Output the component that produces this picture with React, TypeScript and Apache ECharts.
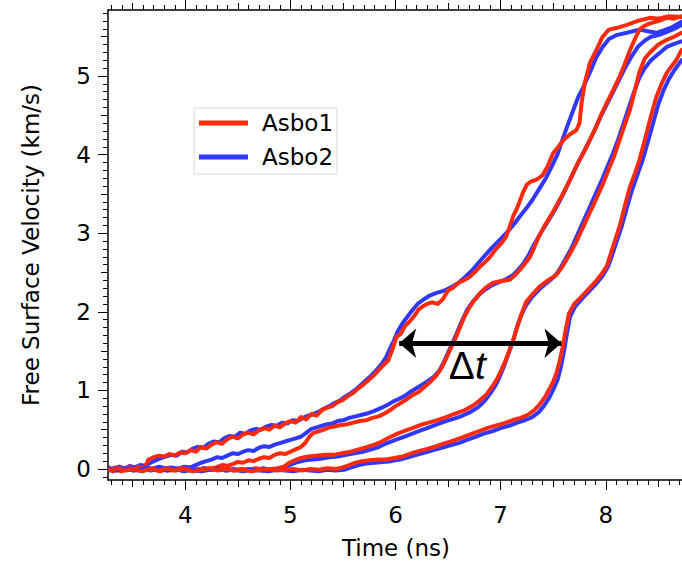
import React, { useEffect, useRef } from "react";
import * as echarts from "echarts";

// ---- Data (time in ns, free surface velocity in km/s) ----
const asbo1TraceA: number[][] = [[3.27,0.00],[3.31,-0.03],[3.36,0.02],[3.41,-0.02],[3.46,0.03],[3.51,-0.01],[3.56,0.03],[3.61,0.01],[3.65,0.12],[3.7,0.15],[3.75,0.17],[3.8,0.16],[3.85,0.19],[3.9,0.17],[3.95,0.21],[4.0,0.20],[4.05,0.24],[4.1,0.22],[4.15,0.28],[4.2,0.26],[4.25,0.31],[4.3,0.34],[4.35,0.32],[4.4,0.38],[4.45,0.41],[4.5,0.39],[4.55,0.44],[4.6,0.46],[4.65,0.44],[4.7,0.49],[4.75,0.52],[4.8,0.50],[4.85,0.55],[4.9,0.53],[4.95,0.58],[5.0,0.61],[5.05,0.59],[5.1,0.66],[5.15,0.63],[5.2,0.70],[5.25,0.68],[5.3,0.75],[5.35,0.78],[5.4,0.80],[5.45,0.85],[5.5,0.88],[5.55,0.93],[5.6,0.97],[5.65,1.03],[5.7,1.08],[5.75,1.14],[5.8,1.20],[5.85,1.27],[5.89,1.33],[5.93,1.38],[5.97,1.52],[6.01,1.68],[6.05,1.72],[6.09,1.82],[6.13,1.87],[6.18,1.95],[6.22,2.03],[6.26,2.07],[6.3,2.10],[6.35,2.12],[6.4,2.10],[6.45,2.16],[6.5,2.27],[6.55,2.31],[6.6,2.37],[6.65,2.40],[6.7,2.44],[6.75,2.50],[6.8,2.57],[6.85,2.63],[6.9,2.70],[6.95,2.79],[7.0,2.86],[7.05,2.95],[7.09,3.10],[7.12,3.22],[7.15,3.30],[7.18,3.40],[7.21,3.51],[7.25,3.62],[7.29,3.66],[7.34,3.68],[7.4,3.74],[7.45,3.86],[7.5,4.02],[7.55,4.10],[7.6,4.19],[7.66,4.26],[7.72,4.31],[7.75,4.40],[7.77,4.66],[7.8,4.91],[7.85,5.17],[7.91,5.33],[7.97,5.50],[8.03,5.59],[8.1,5.61],[8.2,5.65],[8.3,5.70],[8.42,5.74],[8.5,5.73],[8.6,5.76],[8.72,5.75],[8.8,5.76]];
const asbo2TraceA: number[][] = [[3.27,0.02],[3.32,-0.01],[3.37,0.03],[3.42,0.00],[3.47,0.04],[3.52,0.02],[3.57,0.05],[3.62,0.04],[3.67,0.08],[3.72,0.11],[3.77,0.14],[3.82,0.16],[3.87,0.18],[3.92,0.17],[3.97,0.22],[4.02,0.21],[4.07,0.26],[4.12,0.28],[4.17,0.27],[4.22,0.32],[4.27,0.35],[4.32,0.34],[4.37,0.39],[4.42,0.42],[4.47,0.41],[4.52,0.46],[4.57,0.45],[4.62,0.49],[4.67,0.51],[4.72,0.50],[4.77,0.54],[4.82,0.56],[4.87,0.55],[4.92,0.59],[4.97,0.58],[5.02,0.62],[5.07,0.61],[5.12,0.65],[5.17,0.68],[5.22,0.70],[5.27,0.73],[5.32,0.77],[5.37,0.80],[5.42,0.84],[5.47,0.87],[5.52,0.92],[5.57,0.96],[5.62,1.01],[5.67,1.07],[5.72,1.13],[5.77,1.19],[5.82,1.26],[5.87,1.34],[5.91,1.42],[5.95,1.54],[5.98,1.62],[6.02,1.75],[6.07,1.86],[6.11,1.93],[6.16,2.02],[6.21,2.10],[6.27,2.16],[6.33,2.21],[6.39,2.24],[6.44,2.26],[6.48,2.28],[6.54,2.32],[6.6,2.37],[6.66,2.44],[6.73,2.53],[6.8,2.64],[6.86,2.73],[6.92,2.82],[6.98,2.90],[7.03,2.97],[7.08,3.04],[7.13,3.12],[7.18,3.21],[7.24,3.31],[7.3,3.42],[7.37,3.57],[7.43,3.70],[7.49,3.86],[7.54,4.00],[7.59,4.20],[7.65,4.42],[7.7,4.60],[7.74,4.74],[7.78,4.84],[7.82,4.96],[7.86,5.08],[7.91,5.24],[7.97,5.37],[8.03,5.47],[8.1,5.52],[8.2,5.55],[8.32,5.59],[8.4,5.57],[8.48,5.55],[8.55,5.58],[8.63,5.62],[8.72,5.69],[8.8,5.71]];
const asbo1TraceB: number[][] = [[3.27,-0.02],[3.33,0.01],[3.39,-0.03],[3.45,0.00],[3.51,-0.02],[3.57,0.02],[3.63,-0.01],[3.69,0.01],[3.75,-0.02],[3.81,0.00],[3.87,-0.02],[3.93,0.01],[3.99,-0.01],[4.05,0.00],[4.11,-0.02],[4.17,0.01],[4.23,0.00],[4.29,0.02],[4.35,0.05],[4.4,0.04],[4.45,0.06],[4.5,0.09],[4.55,0.08],[4.6,0.11],[4.65,0.10],[4.7,0.13],[4.75,0.15],[4.8,0.14],[4.85,0.18],[4.9,0.20],[4.95,0.19],[5.0,0.22],[5.05,0.25],[5.1,0.28],[5.14,0.33],[5.18,0.41],[5.22,0.46],[5.27,0.48],[5.32,0.50],[5.37,0.53],[5.42,0.54],[5.48,0.56],[5.54,0.57],[5.6,0.59],[5.66,0.61],[5.72,0.62],[5.78,0.65],[5.84,0.67],[5.9,0.71],[5.95,0.75],[6.0,0.80],[6.05,0.84],[6.1,0.88],[6.16,0.94],[6.22,0.98],[6.28,1.05],[6.34,1.12],[6.39,1.19],[6.44,1.29],[6.48,1.40],[6.52,1.52],[6.56,1.63],[6.6,1.76],[6.65,1.92],[6.7,2.05],[6.75,2.15],[6.8,2.23],[6.86,2.31],[6.93,2.37],[7.0,2.39],[7.09,2.41],[7.14,2.47],[7.18,2.53],[7.23,2.61],[7.28,2.70],[7.32,2.82],[7.36,2.95],[7.42,3.10],[7.48,3.23],[7.53,3.35],[7.58,3.47],[7.63,3.60],[7.68,3.74],[7.74,3.91],[7.8,4.05],[7.85,4.19],[7.9,4.33],[7.96,4.52],[8.01,4.66],[8.07,4.82],[8.13,4.99],[8.18,5.15],[8.23,5.33],[8.28,5.48],[8.32,5.59],[8.37,5.64],[8.42,5.67],[8.5,5.70],[8.58,5.74],[8.65,5.73],[8.72,5.76],[8.8,5.77]];
const asbo2TraceB: number[][] = [[3.27,0.01],[3.33,-0.02],[3.39,0.02],[3.45,-0.01],[3.51,0.01],[3.57,-0.02],[3.63,0.02],[3.69,0.00],[3.75,0.03],[3.81,0.01],[3.87,0.02],[3.93,0.00],[3.99,0.03],[4.05,0.02],[4.1,0.05],[4.15,0.08],[4.2,0.10],[4.25,0.12],[4.3,0.15],[4.35,0.14],[4.4,0.17],[4.45,0.20],[4.5,0.19],[4.55,0.22],[4.6,0.24],[4.65,0.23],[4.7,0.27],[4.75,0.29],[4.8,0.28],[4.85,0.31],[4.9,0.33],[4.95,0.35],[5.0,0.37],[5.05,0.39],[5.1,0.41],[5.15,0.46],[5.2,0.51],[5.25,0.53],[5.3,0.55],[5.35,0.57],[5.4,0.58],[5.45,0.61],[5.5,0.62],[5.56,0.65],[5.62,0.67],[5.68,0.69],[5.74,0.71],[5.8,0.74],[5.87,0.78],[5.93,0.82],[5.98,0.86],[6.03,0.89],[6.09,0.93],[6.14,0.98],[6.19,1.02],[6.25,1.07],[6.31,1.12],[6.37,1.18],[6.42,1.26],[6.46,1.36],[6.5,1.48],[6.54,1.60],[6.58,1.72],[6.63,1.88],[6.68,2.02],[6.73,2.12],[6.79,2.21],[6.85,2.28],[6.92,2.34],[6.99,2.38],[7.06,2.42],[7.12,2.47],[7.17,2.54],[7.22,2.62],[7.27,2.73],[7.32,2.86],[7.38,3.00],[7.44,3.13],[7.5,3.26],[7.55,3.38],[7.6,3.51],[7.65,3.65],[7.71,3.82],[7.77,3.98],[7.83,4.14],[7.89,4.30],[7.95,4.48],[8.01,4.64],[8.07,4.80],[8.13,4.96],[8.19,5.12],[8.25,5.26],[8.31,5.38],[8.37,5.45],[8.43,5.50],[8.5,5.52],[8.58,5.56],[8.65,5.60],[8.72,5.65],[8.8,5.67]];
const asbo1TraceC: number[][] = [[3.27,0.01],[3.34,-0.02],[3.41,0.01],[3.48,-0.01],[3.55,0.02],[3.62,-0.01],[3.69,0.00],[3.76,-0.03],[3.83,0.00],[3.9,-0.02],[3.97,0.01],[4.04,-0.01],[4.11,0.00],[4.18,-0.02],[4.25,0.00],[4.32,-0.01],[4.39,0.01],[4.46,-0.02],[4.53,0.00],[4.6,-0.01],[4.67,0.01],[4.74,-0.01],[4.81,0.00],[4.88,0.01],[4.94,0.03],[4.99,0.08],[5.04,0.11],[5.1,0.14],[5.17,0.16],[5.25,0.17],[5.33,0.18],[5.41,0.18],[5.49,0.20],[5.57,0.22],[5.65,0.25],[5.73,0.28],[5.8,0.31],[5.87,0.35],[5.94,0.40],[6.02,0.45],[6.1,0.49],[6.18,0.53],[6.26,0.57],[6.34,0.60],[6.42,0.63],[6.5,0.67],[6.58,0.71],[6.66,0.75],[6.73,0.80],[6.8,0.87],[6.86,0.94],[6.91,1.03],[6.96,1.13],[7.0,1.24],[7.04,1.36],[7.08,1.50],[7.12,1.64],[7.16,1.82],[7.2,1.98],[7.24,2.12],[7.3,2.22],[7.37,2.32],[7.45,2.40],[7.53,2.47],[7.58,2.56],[7.63,2.67],[7.68,2.79],[7.72,2.89],[7.76,3.01],[7.8,3.12],[7.84,3.24],[7.88,3.35],[7.93,3.50],[7.98,3.65],[8.03,3.82],[8.08,3.98],[8.13,4.18],[8.18,4.38],[8.23,4.57],[8.27,4.78],[8.32,5.05],[8.37,5.22],[8.42,5.30],[8.5,5.40],[8.58,5.46],[8.65,5.50],[8.72,5.55],[8.8,5.57]];
const asbo2TraceC: number[][] = [[3.27,-0.01],[3.34,0.02],[3.41,-0.01],[3.48,0.01],[3.55,-0.02],[3.62,0.01],[3.69,-0.01],[3.76,0.01],[3.83,-0.02],[3.9,0.00],[3.97,-0.02],[4.04,0.00],[4.11,-0.02],[4.18,0.01],[4.25,-0.01],[4.32,0.00],[4.39,-0.02],[4.46,0.00],[4.53,-0.02],[4.6,0.00],[4.67,-0.01],[4.74,0.01],[4.81,-0.01],[4.88,0.00],[4.95,0.02],[5.01,0.06],[5.07,0.09],[5.14,0.11],[5.21,0.12],[5.29,0.13],[5.37,0.15],[5.45,0.16],[5.53,0.18],[5.61,0.20],[5.69,0.22],[5.77,0.25],[5.84,0.28],[5.92,0.33],[6.0,0.37],[6.08,0.41],[6.16,0.45],[6.24,0.49],[6.32,0.53],[6.4,0.57],[6.48,0.61],[6.56,0.64],[6.64,0.68],[6.72,0.73],[6.79,0.79],[6.85,0.87],[6.9,0.96],[6.95,1.06],[6.99,1.17],[7.03,1.30],[7.07,1.45],[7.11,1.60],[7.15,1.78],[7.19,1.94],[7.24,2.08],[7.3,2.19],[7.37,2.29],[7.45,2.38],[7.52,2.46],[7.57,2.56],[7.62,2.68],[7.67,2.80],[7.71,2.92],[7.75,3.04],[7.79,3.16],[7.83,3.28],[7.87,3.40],[7.92,3.55],[7.97,3.70],[8.02,3.86],[8.07,4.02],[8.12,4.20],[8.17,4.40],[8.22,4.60],[8.27,4.80],[8.32,4.98],[8.37,5.10],[8.43,5.20],[8.5,5.28],[8.58,5.37],[8.65,5.41],[8.72,5.44],[8.8,5.47]];
const asbo1TraceD: number[][] = [[3.27,-0.02],[3.35,0.01],[3.43,-0.02],[3.51,0.00],[3.59,-0.03],[3.67,0.00],[3.75,-0.02],[3.83,0.01],[3.91,-0.02],[3.99,0.00],[4.07,-0.03],[4.15,-0.01],[4.23,0.01],[4.31,-0.02],[4.39,0.00],[4.47,-0.02],[4.55,-0.01],[4.63,-0.03],[4.71,-0.01],[4.79,0.00],[4.87,-0.02],[4.95,-0.01],[5.03,0.00],[5.11,-0.02],[5.19,0.00],[5.27,-0.01],[5.35,0.01],[5.43,0.00],[5.5,0.02],[5.56,0.05],[5.62,0.08],[5.68,0.10],[5.75,0.11],[5.83,0.12],[5.91,0.12],[5.99,0.14],[6.07,0.16],[6.15,0.20],[6.23,0.23],[6.31,0.26],[6.39,0.29],[6.47,0.33],[6.55,0.36],[6.63,0.40],[6.71,0.44],[6.79,0.48],[6.87,0.52],[6.95,0.55],[7.03,0.58],[7.11,0.62],[7.19,0.65],[7.26,0.69],[7.32,0.75],[7.37,0.82],[7.42,0.91],[7.46,1.01],[7.5,1.11],[7.53,1.22],[7.56,1.36],[7.59,1.55],[7.62,1.78],[7.65,1.98],[7.7,2.10],[7.76,2.18],[7.83,2.28],[7.9,2.38],[7.96,2.48],[8.01,2.58],[8.05,2.75],[8.09,2.92],[8.13,3.08],[8.18,3.34],[8.23,3.59],[8.28,3.77],[8.32,3.93],[8.37,4.18],[8.42,4.44],[8.48,4.73],[8.53,4.90],[8.58,5.04],[8.63,5.13],[8.67,5.20],[8.72,5.33],[8.8,5.38]];
const asbo2TraceD: number[][] = [[3.27,0.00],[3.35,-0.02],[3.43,0.01],[3.51,-0.02],[3.59,0.00],[3.67,-0.02],[3.75,0.00],[3.83,-0.02],[3.91,0.00],[3.99,-0.03],[4.07,-0.01],[4.15,-0.03],[4.23,-0.01],[4.31,0.00],[4.39,-0.02],[4.47,-0.01],[4.55,-0.03],[4.63,-0.01],[4.71,-0.02],[4.79,-0.03],[4.87,-0.01],[4.95,-0.02],[5.03,-0.03],[5.11,-0.01],[5.19,-0.02],[5.27,-0.03],[5.35,-0.01],[5.43,-0.02],[5.51,-0.01],[5.58,0.02],[5.65,0.05],[5.72,0.07],[5.8,0.08],[5.88,0.09],[5.96,0.10],[6.04,0.12],[6.12,0.15],[6.2,0.18],[6.28,0.21],[6.36,0.24],[6.44,0.27],[6.52,0.30],[6.6,0.33],[6.68,0.37],[6.76,0.41],[6.84,0.45],[6.92,0.48],[7.0,0.52],[7.08,0.55],[7.16,0.59],[7.23,0.62],[7.3,0.66],[7.36,0.72],[7.41,0.80],[7.46,0.90],[7.5,1.01],[7.54,1.13],[7.57,1.28],[7.6,1.48],[7.63,1.72],[7.66,1.94],[7.71,2.07],[7.77,2.16],[7.84,2.26],[7.91,2.36],[7.97,2.46],[8.02,2.57],[8.06,2.72],[8.1,2.88],[8.15,3.08],[8.2,3.32],[8.25,3.55],[8.3,3.74],[8.35,3.93],[8.4,4.16],[8.45,4.40],[8.5,4.64],[8.55,4.82],[8.6,4.96],[8.65,5.07],[8.72,5.20],[8.8,5.26]];

// Δt annotation: arrow endpoints (ns) and level (km/s)
const deltaTStart = 6.035;
const deltaTEnd = 7.578;
const deltaTLevel = 1.6;

// Axes
const X_MIN = 3.265;
const X_MAX = 8.725;
const Y_MIN = -0.14;
const Y_MAX = 5.84;
const xMajorTicks = [4, 5, 6, 7, 8];
const xMidTicks = [3.5, 4.5, 5.5, 6.5, 7.5, 8.5];
const yMajorTicks = [0, 1, 2, 3, 4, 5];
const yMidTicks = [0.5, 1.5, 2.5, 3.5, 4.5, 5.5];
const xMinorTicks: number[] = [];
for (let i = 33; i <= 87; i++) xMinorTicks.push(i / 10);
const yMinorTicks: number[] = [];
for (let i = -1; i <= 58; i++) yMinorTicks.push(i / 10);

const RED = "#ff2a0a";
const BLUE = "#3038ff";
const FONT = "DejaVu Sans";

function xAxisDef(position: "top" | "bottom", ticks: number[], len: number, line: boolean, labels: number[] | null) {
  return {
    type: "value",
    position,
    min: X_MIN,
    max: X_MAX,
    axisLine: { show: line, onZero: false, lineStyle: { color: "#000", width: 1.5 } },
    axisTick: { show: true, inside: false, length: len, customValues: ticks, lineStyle: { color: "#000", width: 1 } },
    axisLabel: labels
      ? { show: true, customValues: labels, margin: 23, color: "#000", fontSize: 23, fontFamily: FONT }
      : { show: false },
    splitLine: { show: false },
  };
}

function yAxisDef(ticks: number[], len: number, line: boolean, labels: number[] | null) {
  return {
    type: "value",
    position: "left",
    min: Y_MIN,
    max: Y_MAX,
    axisLine: { show: line, onZero: false, lineStyle: { color: "#000", width: 1.5 } },
    axisTick: { show: true, inside: false, length: len, customValues: ticks, lineStyle: { color: "#000", width: 1 } },
    axisLabel: labels
      ? { show: true, customValues: labels, margin: 17, color: "#000", fontSize: 23, fontFamily: FONT }
      : { show: false },
    splitLine: { show: false },
  };
}

function trace(name: string, color: string, data: number[][]) {
  return {
    type: "line",
    name,
    data,
    xAxisIndex: 0,
    yAxisIndex: 0,
    showSymbol: false,
    symbol: "none",
    clip: true,
    silent: true,
    lineStyle: { color, width: 4, join: "round" },
    itemStyle: { color },
  };
}

export default function App() {
  const ref = useRef<HTMLDivElement>(null);
  useEffect(() => {
    if (!ref.current) return;
    const chart = echarts.init(ref.current, null, { renderer: "svg" });
    chart.setOption({
      animation: false,
      backgroundColor: "#fff",
      grid: { left: 108, top: 10, width: 576, height: 470, containLabel: false },
      xAxis: [
        xAxisDef("bottom", xMinorTicks, 5, true, null),
        xAxisDef("bottom", xMidTicks, 7, false, null),
        xAxisDef("bottom", xMajorTicks, 10, false, xMajorTicks),
        xAxisDef("top", xMinorTicks, 5, true, null),
        xAxisDef("top", xMidTicks, 7, false, null),
        xAxisDef("top", xMajorTicks, 10, false, null),
      ],
      yAxis: [
        yAxisDef(yMinorTicks, 5, true, null),
        yAxisDef(yMidTicks, 7, false, null),
        yAxisDef(yMajorTicks, 10, false, yMajorTicks),
      ],
      legend: {
        data: ["Asbo1", "Asbo2"],
        orient: "vertical",
        left: 194,
        top: 108,
        padding: [2, 4, 4, 5],
        itemGap: 8,
        itemWidth: 49,
        itemHeight: 5,
        icon: "rect",
        selectedMode: false,
        borderColor: "#d9d9d9",
        borderWidth: 1,
        backgroundColor: "#fff",
        textStyle: { color: "#000", fontSize: 23, fontFamily: FONT, lineHeight: 26, padding: [0, 0, 0, 9] },
      },
      graphic: [
        {
          type: "text",
          x: 31,
          y: 245,
          rotation: Math.PI / 2,
          style: {
            text: "Free Surface Velocity (km/s)",
            font: `23px "${FONT}"`,
            fill: "#000",
            align: "center",
            verticalAlign: "middle",
          },
        },
        {
          type: "text",
          x: 396,
          y: 548,
          style: {
            text: "Time (ns)",
            font: `23px "${FONT}"`,
            fill: "#000",
            align: "center",
            verticalAlign: "middle",
          },
        },
      ],
      series: [
        trace("Asbo2", BLUE, asbo2TraceA),
        trace("Asbo1", RED, asbo1TraceA),
        trace("Asbo2", BLUE, asbo2TraceB),
        trace("Asbo1", RED, asbo1TraceB),
        trace("Asbo2", BLUE, asbo2TraceC),
        trace("Asbo1", RED, asbo1TraceC),
        trace("Asbo2", BLUE, asbo2TraceD),
        trace("Asbo1", RED, asbo1TraceD),
        {
          type: "line",
          name: "deltaT",
          data: [],
          silent: true,
          z: 5,
          markLine: {
            silent: true,
            symbol: ["arrow", "arrow"],
            symbolSize: [22, 17],
            lineStyle: { color: "#000", width: 5, type: "solid" },
            label: {
              show: true,
              position: "insideMiddleBottom",
              distance: 3,
              padding: [0, 26, 0, 0],
              formatter: "{a|Δ}{b|t}",
              rich: {
                a: { fontSize: 39, fontFamily: "Liberation Sans", color: "#000" },
                b: { fontSize: 39, fontFamily: "Liberation Sans", fontStyle: "italic", color: "#000" },
              },
            },
            data: [[{ coord: [deltaTStart, deltaTLevel] }, { coord: [deltaTEnd, deltaTLevel] }]],
          },
        },
      ],
    });
    return () => chart.dispose();
  }, []);
  return <div ref={ref} style={{ position: "absolute", left: 0, top: 0, width: 682, height: 563 }} />;
}
